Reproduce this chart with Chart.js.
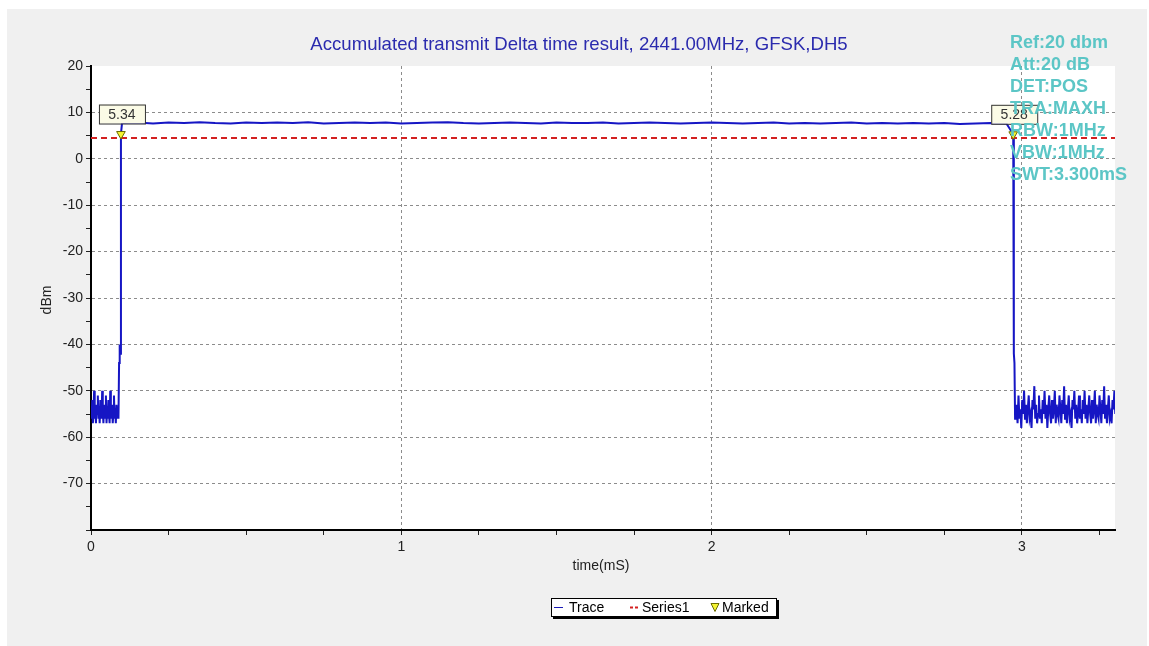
<!DOCTYPE html>
<html>
<head>
<meta charset="utf-8">
<script src="https://cdn.jsdelivr.net/npm/chart.js@4"></script>
<style>
  html, body { margin: 0; padding: 0; background: #fff; }
  #panel { position: absolute; left: 7px; top: 9px; width: 1140px; height: 637px; background: #f0f0f0; }
  #wrap { position: absolute; left: 0; top: 0; width: 1149px; height: 646px; }
</style>
</head>
<body>
<div id="panel"></div>
<div id="wrap"><canvas id="chart"></canvas></div>
<script>
// sweep data (time in mS, level in dBm)
const noiseLeftStart = 0;
const noiseLeftStep = 0.002;
const noiseLeftDbm = [-54, -56, -52, -57, -55, -50, -56, -54, -57, -53, -55, -51, -56, -54, -57,
  -52, -55, -56, -50, -54, -57, -53, -56, -55, -51, -57, -54, -56, -52, -55,
  -57, -50, -54, -56, -53, -57, -55, -51, -56, -54, -57, -53, -55, -56, -54];

const riseTimes = [0.0885, 0.0905, 0.0925, 0.0945, 0.0965];
const riseDbm = [-56, -44, -40, -42, 5.34];

const topStart = 0.1;
const topStep = 0.05;
const topDbm = [7.7, 7.8, 7.6, 7.8, 7.7, 7.9, 7.7, 7.6, 7.8, 7.7,
  7.8, 7.7, 7.9, 7.6, 7.7, 7.8, 7.7, 7.8, 7.6, 7.7,
  7.8, 7.9, 7.7, 7.6, 7.7, 7.8, 7.7, 7.6, 7.8, 7.7,
  7.7, 7.8, 7.6, 7.7, 7.8, 7.7, 7.6, 7.7, 7.8, 7.7,
  7.6, 7.7, 7.8, 7.6, 7.7, 7.6, 7.7, 7.8, 7.6, 7.7,
  7.6, 7.7, 7.6, 7.7, 7.5, 7.6, 7.7, 7.6];

const fallTimes = [2.972, 2.974, 2.976, 2.978];
const fallDbm = [5.28, -42, -44, -56];

const noiseRightStart = 2.98;
const noiseRightStep = 0.003;
const noiseRightDbm = [-55, -53, -57, -51, -56, -54, -58, -52, -55, -50, -56, -53, -57, -54, -51,
  -56, -55, -58, -52, -54, -49, -56, -53, -57, -55, -51, -56, -54, -57, -52,
  -55, -50, -56, -53, -58, -54, -51, -55, -57, -52, -56, -54, -50, -57, -53,
  -55, -56, -51, -54, -57, -52, -55, -49, -56, -53, -57, -54, -51, -56, -55,
  -58, -52, -54, -50, -56, -53, -57, -55, -51, -56, -54, -57, -52, -55, -50,
  -56, -53, -57, -54, -51, -55, -57, -52, -56, -54, -50, -57, -53, -55, -56,
  -51, -54, -57, -52, -55, -49, -56, -53, -57, -54, -51, -56, -55, -57, -52,
  -54, -50, -55];

const thresholdDbm = 4.5;
const markerTimes = [0.0965, 2.972];
const markerDbm = [5.34, 5.28];

const titleText = 'Accumulated transmit Delta time result, 2441.00MHz, GFSK,DH5';
const infoLines = ['Ref:20 dbm', 'Att:20 dB', 'DET:POS', 'TRA:MAXH', 'RBW:1MHz', 'VBW:1MHz', 'SWT:3.300mS'];

// build the trace
const trace = [];
noiseLeftDbm.forEach((v, i) => trace.push({ x: noiseLeftStart + i * noiseLeftStep, y: v }));
riseTimes.forEach((t, i) => trace.push({ x: t, y: riseDbm[i] }));
topDbm.forEach((v, i) => trace.push({ x: topStart + i * topStep, y: v }));
fallTimes.forEach((t, i) => trace.push({ x: t, y: fallDbm[i] }));
noiseRightDbm.forEach((v, i) => trace.push({ x: noiseRightStart + i * noiseRightStep, y: v }));

const markers = markerTimes.map((t, i) => ({ x: t, y: markerDbm[i] }));

const FONT = 'Arial, "Liberation Sans", sans-serif';
const isInt = v => Math.abs(v - Math.round(v)) < 1e-9;

const decor = {
  id: 'decor',
  beforeDraw(chart) {
    const { ctx, chartArea: a } = chart;
    ctx.save();
    ctx.fillStyle = '#fff';
    ctx.fillRect(a.left, a.top, a.right - a.left, a.bottom - a.top);
    ctx.restore();
  },
  afterDraw(chart) {
    const { ctx } = chart;
    const xs = chart.scales.x, ys = chart.scales.y;
    ctx.save();

    // title
    ctx.font = '18.6px ' + FONT;
    ctx.fillStyle = '#2b2bae';
    ctx.textAlign = 'center';
    ctx.textBaseline = 'middle';
    ctx.fillText(titleText, 579, 45);

    // axis titles
    ctx.font = '14px ' + FONT;
    ctx.fillStyle = '#222';
    ctx.fillText('time(mS)', 601, 566);
    ctx.save();
    ctx.translate(47, 300);
    ctx.rotate(-Math.PI / 2);
    ctx.font = '14px ' + FONT;
    ctx.fillText('dBm', 0, 0);
    ctx.restore();

    // marker value boxes
    ctx.font = '14px ' + FONT;
    markers.forEach(m => {
      const px = xs.getPixelForValue(m.x) + 1;
      const py = ys.getPixelForValue(m.y) - 20;
      ctx.fillStyle = '#fbfbe6';
      ctx.fillRect(px - 23, py - 9.5, 46, 19);
      ctx.strokeStyle = '#333';
      ctx.lineWidth = 1;
      ctx.strokeRect(px - 22.5, py - 9, 46, 19);
      ctx.fillStyle = '#333';
      ctx.fillText(m.y.toFixed(2), px, py + 1);
    });

    // instrument settings
    ctx.font = 'bold 18px ' + FONT;
    ctx.fillStyle = '#5cc6c6';
    ctx.textAlign = 'left';
    infoLines.forEach((s, i) => ctx.fillText(s, 1010, 43 + i * 22));

    // legend
    const lx = 551, ly = 598, lw = 226, lh = 19;
    ctx.fillStyle = '#000';
    ctx.fillRect(lx + 2, ly + 2, lw, lh);
    ctx.fillStyle = '#fff';
    ctx.fillRect(lx, ly, lw, lh);
    ctx.strokeStyle = '#000';
    ctx.lineWidth = 1;
    ctx.strokeRect(lx + 0.5, ly + 0.5, lw - 1, lh - 1);
    const cy = ly + lh / 2;
    ctx.strokeStyle = '#1a1ab8';
    ctx.beginPath(); ctx.moveTo(554, cy); ctx.lineTo(563, cy); ctx.stroke();
    ctx.strokeStyle = '#d42020';
    ctx.lineWidth = 2;
    ctx.setLineDash([3, 2]);
    ctx.beginPath(); ctx.moveTo(630, cy); ctx.lineTo(639, cy); ctx.stroke();
    ctx.setLineDash([]);
    ctx.fillStyle = '#f4f432';
    ctx.strokeStyle = '#6b6b00';
    ctx.lineWidth = 1;
    ctx.beginPath(); ctx.moveTo(711, cy - 4); ctx.lineTo(719, cy - 4); ctx.lineTo(715, cy + 4); ctx.closePath();
    ctx.fill(); ctx.stroke();
    ctx.fillStyle = '#000';
    ctx.font = '14px ' + FONT;
    ctx.fillText('Trace', 569, cy + 1);
    ctx.fillText('Series1', 642, cy + 1);
    ctx.fillText('Marked', 722, cy + 1);

    ctx.restore();
  }
};

const ctx = document.getElementById('chart').getContext('2d');
new Chart(ctx, {
  type: 'scatter',
  data: {
    datasets: [
      {
        label: 'Marked',
        data: markers,
        pointStyle: 'triangle',
        rotation: 180,
        radius: 5,
        backgroundColor: '#f4f432',
        borderColor: '#6b6b00',
        borderWidth: 1,
        order: 0
      },
      {
        label: 'Series1',
        data: [{ x: 0, y: thresholdDbm }, { x: 3.3, y: thresholdDbm }],
        showLine: true,
        pointRadius: 0,
        borderColor: '#d42020',
        borderWidth: 2,
        borderDash: [6, 4],
        order: 1
      },
      {
        label: 'Trace',
        data: trace,
        showLine: true,
        pointRadius: 0,
        borderColor: '#1616c4',
        borderWidth: 2,
        tension: 0,
        order: 2
      }
    ]
  },
  options: {
    responsive: true,
    maintainAspectRatio: false,
    animation: false,
    layout: { padding: { left: 0, top: 66, right: 34, bottom: 0 } },
    plugins: { legend: { display: false }, tooltip: { enabled: false }, title: { display: false } },
    scales: {
      x: {
        type: 'linear',
        min: 0,
        max: 3.3,
        afterFit: s => { s.height = 116; },
        grid: {
          color: c => (c.tick && isInt(c.tick.value) && c.tick.value !== 0) ? '#8c8c8c' : 'rgba(0,0,0,0)',
          tickColor: '#222',
          tickLength: 5,
          lineWidth: 1
        },
        border: { display: true, color: '#000', width: 2, dash: [3, 3] },
        ticks: {
          stepSize: 0.25,
          includeBounds: false,
          autoSkip: false,
          maxRotation: 0,
          padding: 4,
          color: '#222',
          font: { family: FONT, size: 14 },
          callback: v => isInt(v) ? Math.round(v) : ''
        }
      },
      y: {
        min: -80,
        max: 20,
        afterFit: s => { s.width = 91; },
        grid: {
          color: c => (c.tick && c.tick.value % 10 === 0 && c.tick.value < 20 && c.tick.value > -80) ? '#8c8c8c' : 'rgba(0,0,0,0)',
          tickColor: '#222',
          tickLength: 5,
          lineWidth: 1
        },
        border: { display: true, color: '#000', width: 2, dash: [3, 3] },
        ticks: {
          stepSize: 5,
          autoSkip: false,
          padding: 3,
          color: '#222',
          font: { family: FONT, size: 14 },
          callback: v => (v % 10 === 0 && v > -80) ? v : ''
        }
      }
    }
  },
  plugins: [decor]
});
</script>
</body>
</html>
